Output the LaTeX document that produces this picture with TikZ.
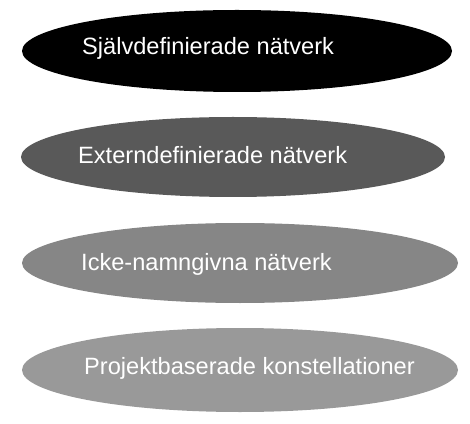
\documentclass[tikz,border=0pt]{standalone}
\usepackage{fontspec}
\setmainfont{Liberation Sans}
\usetikzlibrary{shapes.geometric}
\definecolor{eA}{HTML}{000000}
\definecolor{eB}{HTML}{595959}
\definecolor{eC}{HTML}{868686}
\definecolor{eD}{HTML}{999999}
\tikzset{
  oval/.style={shape=ellipse, inner sep=0pt, draw=none},
  lbl/.style={anchor=base west, inner sep=0pt, text=white, font=\fontsize{23.6}{28}\selectfont}
}
\begin{document}
\begin{tikzpicture}[x=1pt,y=1pt]
\useasboundingbox (0,0) rectangle (470,423);
\node[oval, fill=eA, minimum width=430pt, minimum height=82pt] (e1) at (237,372) {};
\node[oval, fill=eB, minimum width=424pt, minimum height=80pt] (e2) at (233,266) {};
\node[oval, fill=eC, minimum width=436pt, minimum height=80pt] (e3) at (240,160) {};
\node[oval, fill=eD, minimum width=436pt, minimum height=84pt] (e4) at (240,53) {};
\node[lbl] (t1) at (82,368.5) {Självdefinierade nätverk};
\node[lbl] (t2) at (78,259) {Externdefinierade nätverk};
\node[lbl] (t3) at (81,153) {Icke-namngivna nätverk};
\node[lbl] (t4) at (84,48.7) {Projektbaserade konstellationer};
\end{tikzpicture}
\end{document}
